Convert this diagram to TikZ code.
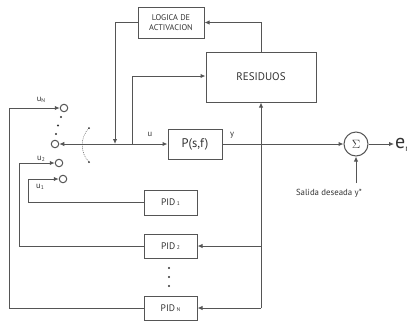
\documentclass[tikz,border=0pt]{standalone}
\usepackage{fontspec}
\setmainfont{PT Sans}
\usetikzlibrary{arrows.meta}
\definecolor{ln}{HTML}{555555}
\definecolor{tx}{HTML}{333333}
\tikzset{
  box/.style={draw=ln,line width=1pt,rectangle,inner sep=0pt,text=tx},
  wire/.style={draw=ln,line width=1pt},
  arr/.style={wire,-{Latex[length=5pt,width=4.5pt]}},
  sw/.style={draw=ln,line width=1pt,circle,minimum size=7.5pt,inner sep=0pt,fill=white},
  lbl/.style={text=tx,inner sep=0pt},
  dotp/.style={fill=tx,circle,minimum size=2.2pt,inner sep=0pt}
}
\begin{document}
\begin{tikzpicture}[x=1pt,y=-1pt]
\useasboundingbox (0,0) rectangle (407,322);
% blocks
\node[box,minimum width=66pt,minimum height=31pt,align=center,font=\fontsize{8.3}{9.5}\selectfont] (logica) at (171,22.5) {LOGICA DE\\ACTIVACION};
\node[box,minimum width=110pt,minimum height=50pt,font=\fontsize{11}{13}\selectfont] (res) at (261,77) {RESIDUOS};
\node[box,minimum width=54pt,minimum height=30pt,font=\fontsize{12.5}{14}\selectfont] (P) at (195,144) {P(s,f)};
\node[draw=ln,line width=1pt,circle,minimum size=24pt,inner sep=0pt,text=tx,font=\fontsize{12}{14}\selectfont] (sig) at (356,144) {$\Sigma$};
\node[box,minimum width=53pt,minimum height=25pt,font=\fontsize{9.5}{11}\selectfont] (pid1) at (170.5,202.5) {PID\,{\fontsize{5.5}{6}\selectfont 1}};
\node[box,minimum width=53pt,minimum height=24pt,font=\fontsize{9.5}{11}\selectfont] (pid2) at (170.5,246) {PID\,{\fontsize{5.5}{6}\selectfont 2}};
\node[box,minimum width=53pt,minimum height=24pt,font=\fontsize{9.5}{11}\selectfont] (pidn) at (170.5,308) {PID\,{\fontsize{5.5}{6}\selectfont N}};
% switch contacts
\node[sw] (cN) at (64,108) {};
\node[sw] (c0) at (55,144) {};
\node[sw] (c2) at (59,163) {};
\node[sw] (c1) at (63,179) {};
% coordinates
\coordinate (j1) at (115,144);
\coordinate (j2) at (132,144);
\coordinate (e) at (394,144);
\coordinate (ys) at (356,183);
% connectors
\draw[arr] (res.north) |- (logica.east);
\draw[arr] (logica.west) -| (j1);
\draw[wire,{Latex[length=5pt,width=4.5pt]}-{Latex[length=5pt,width=4.5pt]}] (c0.east) -- (P.west);
\draw[arr] (j2) |- (res.west |- 0,76);
\draw[arr] (P.east) -- (sig.west);
\draw[arr] (sig.east) -- (e);
\draw[arr] (ys) -- (sig.south);
\draw[arr] (res.south |- pidn.east) -- (res.south);
\draw[arr] (res.south |- pid2.east) -- (pid2.east);
\draw[arr] (res.south |- pidn.east) -- (pidn.east);
\draw[arr] (pid1.west) -| (28,179) -- (c1.west);
\draw[arr] (pid2.west) -| (19,163) -- (c2.west);
\draw[arr] (pidn.west) -| (9,108) -- (cN.west);
% switch arc
\draw[draw=ln,line width=0.45pt,dash pattern=on 1pt off 1pt] (89,128) .. controls (80,137) and (80,153) .. (89,162);
\node[dotp,minimum size=2pt] (a1) at (89,128) {};
\node[dotp,minimum size=2pt] (a2) at (89,162) {};
% dots
\node[dotp] (d1) at (61,117) {};
\node[dotp] (d2) at (58,125.5) {};
\node[dotp] (d3) at (56,134) {};
\node[dotp] (d4) at (169,268) {};
\node[dotp] (d5) at (169,277) {};
\node[dotp] (d6) at (169,286) {};
% labels
\node[lbl,font=\fontsize{8.5}{9}\selectfont] (lu) at (150,134) {u};
\node[lbl,font=\fontsize{8.5}{9}\selectfont] (ly) at (232,135) {y};
\node[lbl,font=\fontsize{8.5}{9}\selectfont] (luN) at (41,100) {u\raisebox{-1.5pt}{\fontsize{5.5}{6}\selectfont N}};
\node[lbl,font=\fontsize{8.5}{9}\selectfont] (lu2) at (41,159) {u\raisebox{-1.5pt}{\fontsize{5.5}{6}\selectfont 2}};
\node[lbl,font=\fontsize{8.5}{9}\selectfont] (lu1) at (40,187) {u\raisebox{-1.5pt}{\fontsize{5.5}{6}\selectfont 1}};
\node[lbl,font=\fontsize{8.8}{10}\selectfont] (lys) at (329,193) {Salida deseada y*};
\node[lbl,anchor=west,font=\fontsize{20}{22}\selectfont] (le) at (395,145) {e\raisebox{-3pt}{\fontsize{9}{10}\selectfont r}};
\end{tikzpicture}
\end{document}
